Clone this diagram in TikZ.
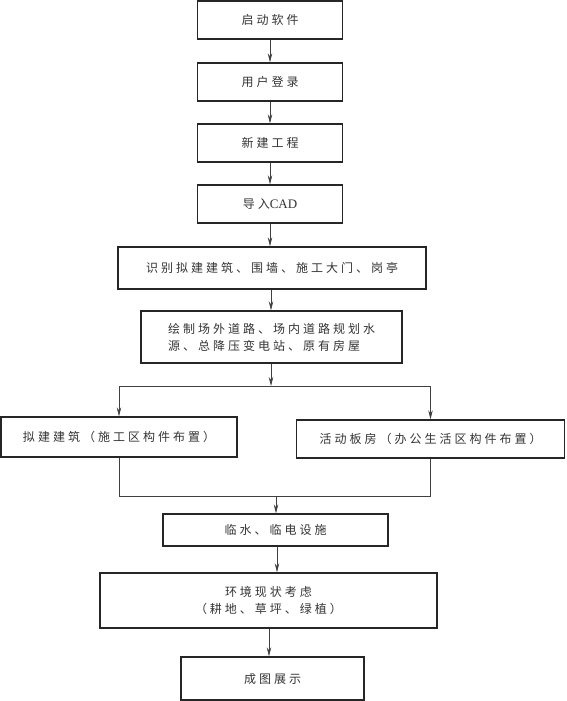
\documentclass[tikz,border=0pt]{standalone}
\usepackage{fontspec}
\setmainfont{Liberation Serif}
\newfontfamily\cjk[LetterSpace=25]{Noto Sans CJK SC}
\usetikzlibrary{arrows.meta}
\tikzset{
  box/.style={draw=black!85, line width=1.3pt, minimum width=#1, inner sep=0pt, font=\cjk\fontsize{12}{17}\selectfont, text=black!80},
  conn/.style={draw=black!75, line width=0.7pt},
  arr/.style={conn, -{Stealth[length=9pt,width=4.5pt]}}
}
\begin{document}
\begin{tikzpicture}[x=1pt,y=-1pt]
\useasboundingbox (0,0) rectangle (566,701);
\node[box=145pt, minimum height=38pt] (n1) at (270,20) {启动软件};
\node[box=145pt, minimum height=38pt] (n2) at (270,82) {用户登录};
\node[box=145pt, minimum height=38pt] (n3) at (270,143) {新建工程};
\node[box=145pt, minimum height=38pt] (n4) at (270,204) {导入{\rmfamily\fontsize{13}{15}\selectfont CAD}};
\node[box=308pt, minimum height=42pt] (n5) at (272,268) {识别拟建建筑、围墙、施工大门、岗亭};
\node[box=261pt, minimum height=52pt, align=left] (n6) at (271.5,337) {绘制场外道路、场内道路规划水\\源、总降压变电站、原有房屋};
\node[box=236pt, minimum height=40pt] (L) at (119,437) {拟建建筑（施工区构件布置）};
\node[box=268pt, minimum height=38pt] (R) at (430.5,439) {活动板房（办公生活区构件布置）};
\node[box=225pt, minimum height=32pt] (n7) at (275.5,530) {临水、临电设施};
\node[box=337pt, minimum height=55pt, align=center] (n8) at (268.5,600.5) {环境现状考虑\\（耕地、草坪、绿植）};
\node[box=183pt, minimum height=43pt] (n9) at (272.5,678.5) {成图展示};
\coordinate (s1) at (271,386);
\coordinate (s2) at (276,496);
\draw[arr] (n1) -- (n2);
\draw[arr] (n2) -- (n3);
\draw[arr] (n3) -- (n4);
\draw[arr] (n4.south) -- (n4.south |- n5.north);
\draw[arr] (n5.south -| s1) -- (n6.north -| s1);
\draw[arr] (n6.south -| s1) -- (s1);
\draw[conn] (s1 -| L) -- (s1 -| R);
\draw[arr] (s1 -| L) -- (L.north);
\draw[arr] (s1 -| R) -- (R.north);
\draw[conn] (L.south) -- (s2 -| L) -- (s2 -| R) -- (R.south);
\draw[arr] (s2) -- (s2 |- n7.north);
\draw[arr] (n7.south -| 277,0) -- (n8.north -| 277,0);
\draw[arr] (n8.south -| 269,0) -- (n9.north -| 269,0);
\end{tikzpicture}
\end{document}
